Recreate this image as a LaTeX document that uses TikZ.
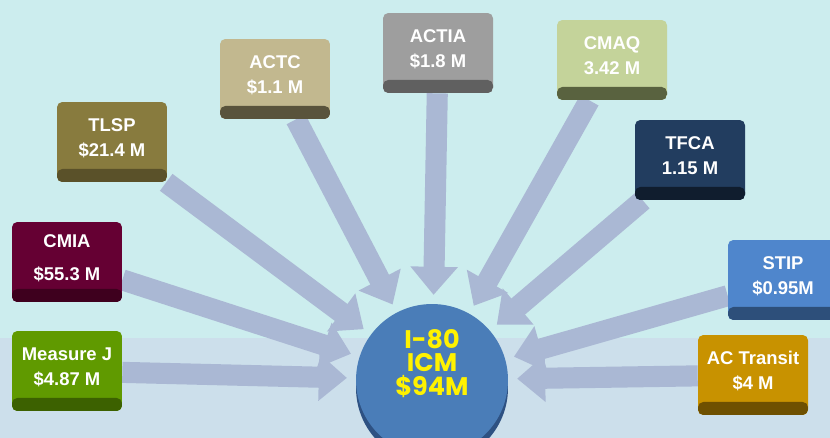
\documentclass[tikz,border=0pt]{standalone}
\usepackage{fontspec}
\setmainfont{Liberation Sans}
\newfontfamily\hubfont{Poppins}
\usetikzlibrary{arrows.meta}
\pgfdeclarelayer{bg}
\pgfsetlayers{bg,main}
\definecolor{skycol}{HTML}{CCEDEE}
\definecolor{bandcol}{HTML}{CCDFEB}
\definecolor{flowcol}{HTML}{AAB8D4}
\definecolor{hubtop}{HTML}{4A7DB8}
\definecolor{hubside}{HTML}{2E5182}
\definecolor{cmiatop}{HTML}{650033}
\definecolor{cmiabot}{HTML}{3E001E}
\definecolor{measjtop}{HTML}{609A00}
\definecolor{measjbot}{HTML}{3C6100}
\definecolor{tlsptop}{HTML}{887B3E}
\definecolor{tlspbot}{HTML}{5A5129}
\definecolor{actctop}{HTML}{C2B88F}
\definecolor{actcbot}{HTML}{59533C}
\definecolor{actiatop}{HTML}{9E9E9E}
\definecolor{actiabot}{HTML}{606060}
\definecolor{cmaqtop}{HTML}{C4D39A}
\definecolor{cmaqbot}{HTML}{59623F}
\definecolor{tfcatop}{HTML}{223D5F}
\definecolor{tfcabot}{HTML}{101D2E}
\definecolor{stiptop}{HTML}{4F86CC}
\definecolor{stipbot}{HTML}{2D4F7A}
\definecolor{actransittop}{HTML}{C89200}
\definecolor{actransitbot}{HTML}{6E5000}
\tikzset{
        fund/.style={rounded corners=3pt, fill=#1top, minimum width=2.2cm, minimum height=1.6cm,
                align=center, text=white, text depth=5pt,
                font=\bfseries\fontsize{10.5}{14}\selectfont,
                path picture={\fill[#1bot] ([yshift=0.26cm]path picture bounding box.south west)
                        rectangle (path picture bounding box.south east);}},
        flow/.style={draw=flowcol, line width=12pt, -{Triangle[width=26pt,length=16pt]}, shorten >=5pt}
}

\begin{document}
\begin{tikzpicture}[x=0.02cm, y=-0.02cm]
        \useasboundingbox (0,0) rectangle (830,438);
        \clip (0,0) rectangle (830,438);
        \node[fund=cmia] (cmia) at (67,262) {CMIA\\[5pt]\$55.3 M};
        \node[fund=measj] (measj) at (67,371) {Measure J\\\$4.87 M};
        \node[fund=tlsp] (tlsp) at (112,142) {TLSP\\\$21.4 M};
        \node[fund=actc] (actc) at (275,79) {ACTC\\\$1.1 M};
        \node[fund=actia] (actia) at (438,53) {ACTIA\\\$1.8 M};
        \node[fund=cmaq] (cmaq) at (612,60) {CMAQ\\3.42 M};
        \node[fund=tfca] (tfca) at (690,160) {TFCA\\1.15 M};
        \node[fund=stip] (stip) at (783,280) {STIP\\\$0.95M};
        \node[fund=actransit] (actransit) at (753,375) {AC Transit\\\$4 M};
        \node[circle, fill=hubside, minimum size=3.04cm] (hubbase) at (432,388) {};
        \node[circle, fill=hubtop, minimum size=3.04cm, inner sep=0pt, align=center, text=yellow,
                text depth=20pt, font=\hubfont\bfseries\fontsize{14.5}{13.6}\selectfont] (hub) at (432,380) {I-80\\ICM\\\$94M};
        \begin{pgfonlayer}{bg}
                \fill[skycol] (0,0) rectangle (830,338);
                \fill[bandcol] (0,338) rectangle (830,438);
                \foreach \n in {cmia,measj,tlsp,actc,actia,cmaq,tfca,stip,actransit} {
                        \draw[flow] (\n) -- (hub);
                }
        \end{pgfonlayer}
\end{tikzpicture}
\end{document}
